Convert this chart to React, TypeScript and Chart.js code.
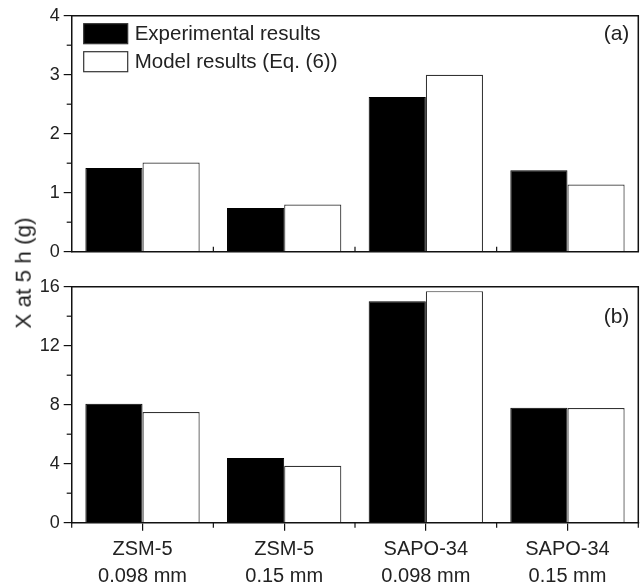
import React, { useEffect, useRef } from "react";
import { Chart, registerables } from "chart.js";

Chart.register(...registerables);

const categories: string[][] = [
  ["ZSM-5", "0.098 mm"],
  ["ZSM-5", "0.15 mm"],
  ["SAPO-34", "0.098 mm"],
  ["SAPO-34", "0.15 mm"],
];
const seriesNames = ["Experimental results", "Model results (Eq. (6))"];
const expA = [1.42, 0.74, 2.62, 1.38];
const modelA = [1.51, 0.8, 3.0, 1.14];
const expB = [8.07, 4.38, 15.02, 7.8];
const modelB = [7.5, 3.86, 15.7, 7.78];
const ticksA = { min: 0, max: 4, step: 1 };
const ticksB = { min: 0, max: 16, step: 4 };

const FONT = "'Liberation Sans', Arial, sans-serif";
const INK = "#222";

const framePlugin = {
  id: "frameTicks",
  afterDraw(chart: any, _args: any, opts: any) {
    const { ctx, chartArea } = chart;
    const x = chart.scales.x;
    const y = chart.scales.y;
    ctx.save();
    ctx.strokeStyle = "#111";
    ctx.lineWidth = 1.5;
    // top & right frame
    ctx.beginPath();
    ctx.moveTo(chartArea.left, chartArea.top);
    ctx.lineTo(chartArea.right, chartArea.top);
    ctx.lineTo(chartArea.right, chartArea.bottom);
    ctx.stroke();
    // minor y ticks (outward)
    const half = opts.step / 2;
    ctx.lineWidth = 1.2;
    for (let v = opts.min + half; v < opts.max; v += opts.step) {
      const py = y.getPixelForValue(v);
      ctx.beginPath();
      ctx.moveTo(chartArea.left - 5, py);
      ctx.lineTo(chartArea.left, py);
      ctx.stroke();
    }
    // category boundary ticks
    const n = x.ticks.length;
    const w = x.getPixelForValue(1) - x.getPixelForValue(0);
    for (let i = 0; i < n; i++) {
      const px = x.getPixelForValue(i) - w / 2;
      ctx.beginPath();
      if (opts.inward) {
        if (i === 0) continue;
        ctx.moveTo(px, chartArea.bottom);
        ctx.lineTo(px, chartArea.bottom - 5);
      } else {
        ctx.moveTo(px, chartArea.bottom);
        ctx.lineTo(px, chartArea.bottom + 5);
      }
      ctx.stroke();
    }
    if (!opts.inward) {
      ctx.beginPath();
      ctx.moveTo(chartArea.right, chartArea.bottom);
      ctx.lineTo(chartArea.right, chartArea.bottom + 5);
      ctx.stroke();
    }
    // panel label
    ctx.fillStyle = INK;
    ctx.font = `21px ${FONT}`;
    ctx.textAlign = "right";
    ctx.textBaseline = "middle";
    ctx.fillText(opts.panel, chartArea.right - 9, chartArea.top + opts.panelDy);
    // legend
    if (opts.legend) {
      ctx.font = `20.5px ${FONT}`;
      const dsets = chart.data.datasets;
      dsets.forEach((ds: any, i: number) => {
        const bx = chartArea.left + 12;
        const by = chartArea.top + 8 + i * 28;
        ctx.fillStyle = ds.backgroundColor;
        ctx.fillRect(bx, by, 44, 20);
        ctx.strokeStyle = "#333";
        ctx.lineWidth = 1.2;
        ctx.strokeRect(bx, by, 44, 20);
        ctx.fillStyle = INK;
        ctx.textAlign = "left";
        ctx.fillText(ds.label, bx + 51, by + 10.5);
      });
    }
    ctx.restore();
  },
};

function makeConfig(exp: number[], model: number[], t: any, opts: any) {
  const isTop = opts.legend;
  return {
    type: "bar" as const,
    data: {
      labels: categories,
      datasets: [
        {
          label: seriesNames[0],
          data: exp,
          backgroundColor: "#000",
          borderColor: "#000",
          borderWidth: 1,
          categoryPercentage: 0.807,
          barPercentage: 1,
        },
        {
          label: seriesNames[1],
          data: model,
          backgroundColor: "#fff",
          borderColor: "#333",
          borderWidth: 1.2,
          categoryPercentage: 0.807,
          barPercentage: 1,
        },
      ],
    },
    options: {
      animation: false,
      responsive: false,
      layout: {
        padding: { left: 0, right: 4.7, top: opts.padTop, bottom: 0 },
      },
      plugins: {
        legend: { display: false },
        tooltip: { enabled: false },
        frameTicks: { ...opts, min: t.min, max: t.max, step: t.step },
      },
      scales: {
        x: {
          offset: true,
          grid: isTop
            ? { display: false }
            : {
                display: true,
                offset: false,
                drawOnChartArea: false,
                drawTicks: true,
                tickLength: 8,
                color: "#111",
                lineWidth: 1.2,
              },
          border: { display: true, color: "#111", width: 1.5 },
          ticks: {
            display: !isTop,
            color: INK,
            font: { family: FONT, size: 20, lineHeight: 1.35 },
            padding: 5,
            maxRotation: 0,
            autoSkip: false,
          },
          afterFit: (s: any) => {
            s.height = opts.xHeight;
          },
        },
        y: {
          min: t.min,
          max: t.max,
          ticks: {
            stepSize: t.step,
            color: INK,
            font: { family: FONT, size: 18 },
            padding: 4,
          },
          grid: {
            drawOnChartArea: false,
            drawTicks: true,
            tickLength: 8,
            color: "#111",
            lineWidth: 1.2,
          },
          border: { display: true, color: "#111", width: 1.5 },
          afterFit: (s: any) => {
            s.width = 71.7;
          },
        },
      },
    },
    plugins: [framePlugin],
  };
}

function Panel(props: { exp: number[]; model: number[]; t: any; opts: any; h: number; top: number }) {
  const ref = useRef<HTMLCanvasElement>(null);
  useEffect(() => {
    if (!ref.current) return;
    const chart = new Chart(ref.current, makeConfig(props.exp, props.model, props.t, props.opts) as any);
    return () => chart.destroy();
  }, []);
  return (
    <div style={{ position: "absolute", left: 0, top: props.top, width: 643, height: props.h }}>
      <canvas ref={ref} width={643} height={props.h} style={{ width: 643, height: props.h }} />
    </div>
  );
}

export default function App() {
  return (
    <div
      style={{
        position: "fixed",
        left: 0,
        top: 0,
        width: 643,
        height: 587,
        background: "#fff",
        overflow: "hidden",
      }}
    >
      <Panel
        exp={expA}
        model={modelA}
        t={ticksA}
        h={270}
        top={0}
        opts={{ panel: "(a)", panelDy: 19, legend: true, inward: true, padTop: 15.7, xHeight: 18.3 }}
      />
      <Panel
        exp={expB}
        model={modelB}
        t={ticksB}
        h={317}
        top={270}
        opts={{ panel: "(b)", panelDy: 31, legend: false, inward: false, padTop: 16.7, xHeight: 64.3 }}
      />
      <div
        style={{
          position: "absolute",
          left: 24,
          top: 273,
          transform: "translate(-50%, -50%) rotate(-90deg)",
          whiteSpace: "nowrap",
          fontFamily: FONT,
          fontSize: 22.5,
          lineHeight: 1,
          color: INK,
        }}
      >
        X at 5 h (g)
      </div>
    </div>
  );
}
